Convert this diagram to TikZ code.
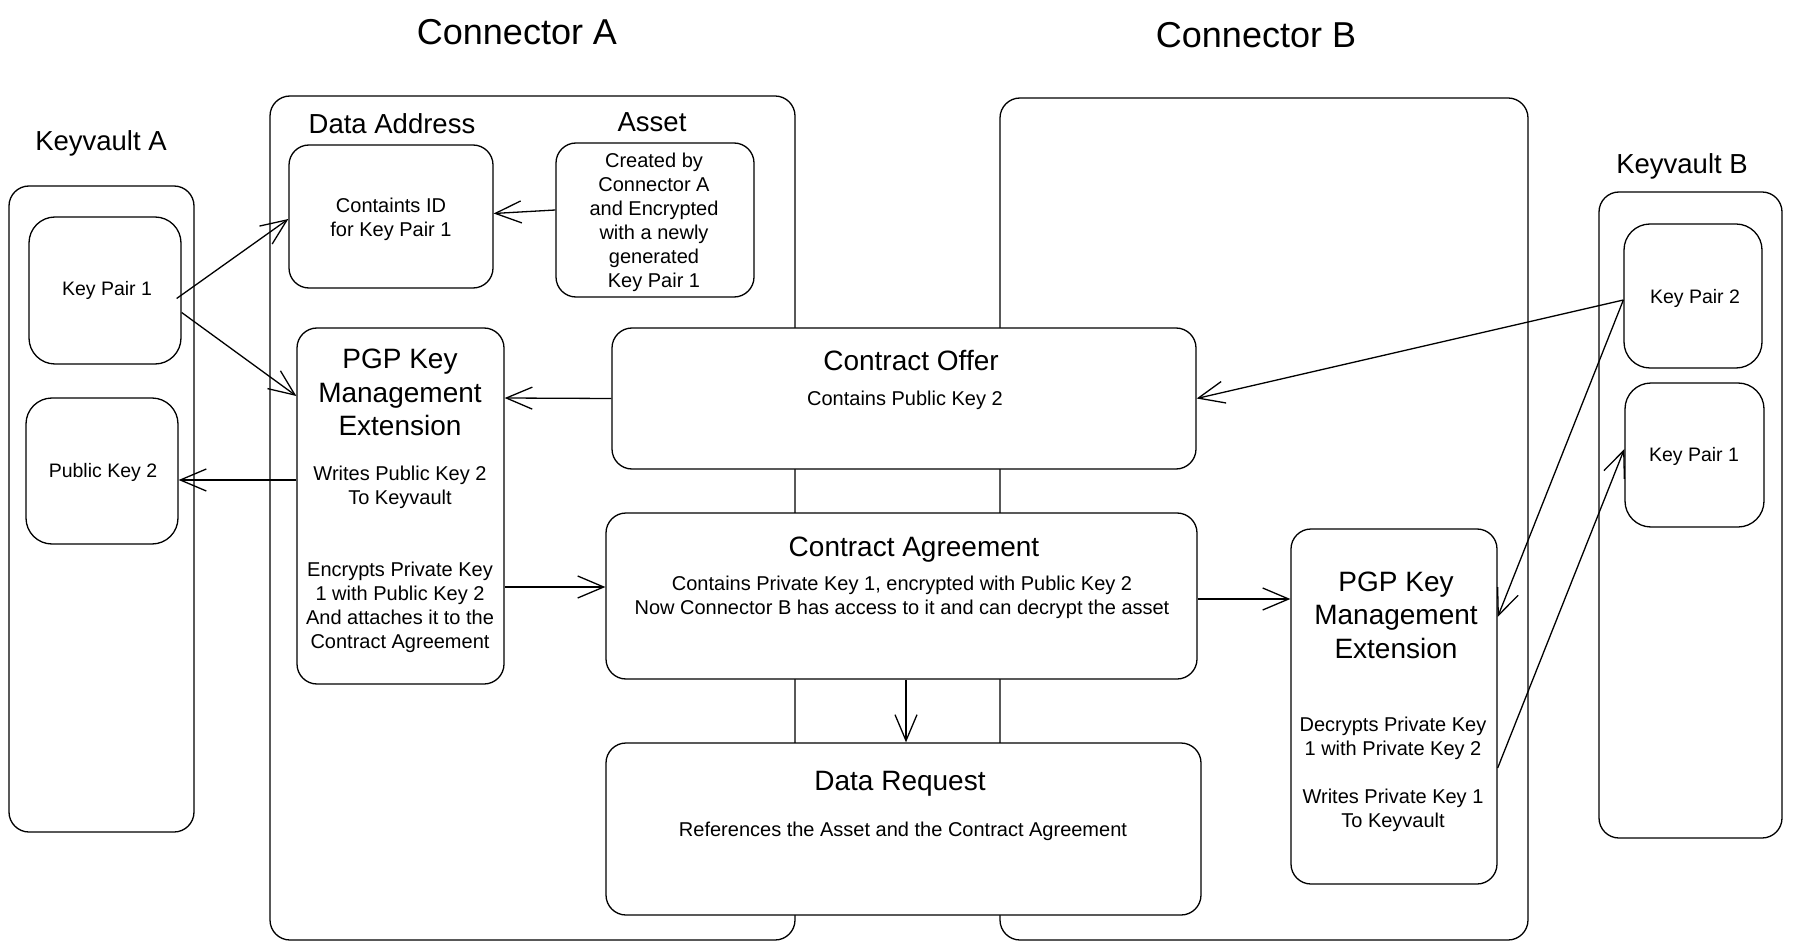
\documentclass[tikz,border=0pt]{standalone}
\usepackage{fontspec}
\setmainfont{Liberation Sans}
\usetikzlibrary{arrows.meta,positioning}
\tikzset{
  box/.style={draw, rounded corners=20pt, fill=white, line width=1.3pt, inner sep=0pt},
  kbox/.style={box, rounded corners=26pt},
  txt/.style={inner sep=0pt, yshift=-2pt, align=center, font=\fontsize{20}{24}\selectfont},
  keytxt/.style={inner sep=0pt, yshift=-2pt, align=center, font=\fontsize{19.5}{23}\selectfont},
  ttl/.style={inner sep=0pt, yshift=-2pt, align=center, font=\fontsize{28}{33.5}\selectfont},
  lbl/.style={inner sep=0pt, yshift=-2pt, font=\fontsize{27.5}{33}\selectfont},
  big/.style={inner sep=0pt, yshift=-1pt, font=\fontsize{36}{43}\selectfont},
  arr/.style={line width=1.3pt, -{Straight Barb[length=26pt,width=22pt,line width=1.3pt]}}
}
\begin{document}
\begin{tikzpicture}[x=1pt,y=-1pt]
\useasboundingbox (0,0) rectangle (1793,949);
% containers
\node[box, minimum width=525pt, minimum height=844pt] (connA) at (532.5,518) {};
\node[box, minimum width=528pt, minimum height=842pt] (connB) at (1264,519) {};
\node[box, minimum width=185pt, minimum height=646pt] (kvA) at (101.5,509) {};
\node[box, minimum width=183pt, minimum height=646pt] (kvB) at (1690.5,515) {};
% titles
\node[big] (tA) at (517,31) {Connector A};
\node[big] (tB) at (1256,34) {Connector B};
\node[lbl] (tkvA) at (101,141) {Keyvault A};
\node[lbl] (tkvB) at (1682,164) {Keyvault B};
\node[lbl] (tDA) at (392,122) {Data Address};
\node[lbl] (tAs) at (652,120) {Asset};
% keyvault A contents
\node[kbox, minimum width=152pt, minimum height=147pt] (kp1A) at (105,290.5) {};
\node[keytxt] at (107,288) {Key Pair 1};
\node[kbox, minimum width=152pt, minimum height=146pt] (pk2) at (102,471) {};
\node[keytxt] at (103,470) {Public Key 2};
% keyvault B contents
\node[kbox, minimum width=138pt, minimum height=144pt] (kp2) at (1693,296) {};
\node[keytxt] at (1695,296) {Key Pair 2};
\node[kbox, minimum width=139pt, minimum height=144pt] (kp1B) at (1694.5,455) {};
\node[keytxt] at (1694,454) {Key Pair 1};
% connector A contents
\node[box, minimum width=204pt, minimum height=143pt] (dataAddr) at (391,216.5) {};
\node[txt] at (391,217) {Containts ID\\for Key Pair 1};
\node[box, minimum width=198pt, minimum height=154pt] (asset) at (655,220) {};
\node[txt] at (654,220) {Created by\\Connector A\\and Encrypted\\with a newly\\generated\\Key Pair 1};
\node[box, minimum width=207pt, minimum height=356pt] (pgpA) at (400.5,506) {};
\node[ttl] at (400,390.5) {PGP Key\\Management\\Extension};
\node[txt] at (400,485) {Writes Public Key 2\\To Keyvault};
\node[txt] at (400,605) {Encrypts Private Key\\1 with Public Key 2\\And attaches it to the\\Contract Agreement};
% shared boxes
\node[box, minimum width=584pt, minimum height=141pt] (offer) at (904,398.5) {};
\node[ttl] at (911,359) {Contract Offer};
\node[txt] at (905,398) {Contains Public Key 2};
\node[box, minimum width=591pt, minimum height=166pt] (agree) at (901.5,596) {};
\node[ttl] at (914,548) {Contract Agreement};
\node[txt] at (902,595) {Contains Private Key 1, encrypted with Public Key 2\\Now Connector B has access to it and can decrypt the asset};
\node[box, minimum width=595pt, minimum height=172pt] (request) at (903.5,829) {};
\node[ttl] at (900,782) {Data Request};
\node[txt] at (903,829) {References the Asset and the Contract Agreement};
% connector B contents
\node[box, minimum width=206pt, minimum height=355pt] (pgpB) at (1394,706.5) {};
\node[ttl] at (1396,613) {PGP Key\\Management\\Extension};
\node[txt] at (1393,736) {Decrypts Private Key\\1 with Private Key 2};
\node[txt] at (1393,808) {Writes Private Key 1\\To Keyvault};
% arrows
\draw[arr] ([xshift=-5pt,yshift=-8pt]kp1A.east) -- ([yshift=-2.5pt]dataAddr.west);
\draw[arr] ([yshift=-22pt]kp1A.east) -- ([yshift=110pt]pgpA.west);
\draw[arr] ([yshift=10pt]asset.west) -- ([yshift=3pt]dataAddr.east);
\draw[arr] (offer.west) -- ([yshift=108pt]pgpA.east);
\draw[arr] ([yshift=26pt]pgpA.west) -- ([yshift=-9pt]pk2.east);
\draw[arr] ([yshift=-81pt]pgpA.east) -- ([yshift=9pt]agree.west);
\draw[arr] ([yshift=-3pt]agree.east) -- ([yshift=107.5pt]pgpB.west);
\draw[arr] ([xshift=4.5pt]agree.south) -- ([xshift=2.5pt]request.north);
\draw[arr] ([yshift=-4pt]kp2.west) -- (offer.east);
\draw[arr] ([yshift=-4pt]kp2.west) -- ([yshift=89.5pt]pgpB.east);
\draw[arr] ([yshift=-61.5pt]pgpB.east) -- ([yshift=6pt]kp1B.west);
\end{tikzpicture}
\end{document}
